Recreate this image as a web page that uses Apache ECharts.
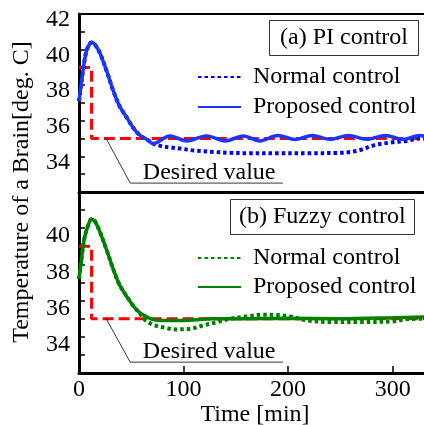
<!DOCTYPE html>
<html>
<head>
<meta charset="utf-8">
<script src="https://cdn.jsdelivr.net/npm/echarts@6/dist/echarts.min.js"></script>
<style>
html, body { margin: 0; padding: 0; background: #fff; }
#chart { width: 424px; height: 425px; }
</style>
</head>
<body>
<div id="chart"></div>
<script>
// (a) PI control
const piProTime = [0, 2, 4, 7, 10, 12, 15, 20, 27, 33, 39, 46, 52, 58, 65, 71, 87, 103, 122, 140, 157, 173, 190, 207, 223, 240, 258, 275, 293, 310, 326, 330]
const piProVal = [37.1, 38.0, 38.9, 39.9, 40.3, 40.4, 40.3, 39.8, 38.7, 37.65, 36.8, 36.15, 35.6, 35.2, 34.95, 34.72, 35.15, 34.87, 35.15, 34.87, 35.15, 34.87, 35.17, 34.95, 35.18, 34.96, 35.18, 34.96, 35.18, 34.96, 35.18, 35.15]
const piNorTime = [0, 2, 4, 7, 10, 12, 15, 20, 27, 33, 39, 46, 52, 58, 65, 71, 78, 88, 97, 110, 129, 145, 161, 190, 220, 250, 260, 269, 282, 298, 313, 326, 330]
const piNorVal = [37.1, 38.0, 38.9, 39.9, 40.3, 40.4, 40.3, 39.8, 38.7, 37.65, 36.8, 36.15, 35.6, 35.2, 34.95, 34.72, 34.59, 34.5, 34.44, 34.33, 34.25, 34.2, 34.18, 34.18, 34.18, 34.2, 34.25, 34.36, 34.62, 34.78, 34.87, 35.0, 35.0]

// (b) Fuzzy control
const fzProTime = [0, 2, 5, 9, 12, 15, 20, 27, 33, 39, 46, 52, 58, 65, 71, 80, 95, 110, 128, 160, 200, 250, 300, 330]
const fzProVal = [37.2, 38.1, 39.4, 40.2, 40.5, 40.4, 39.8, 38.7, 37.7, 36.85, 36.2, 35.7, 35.33, 35.1, 34.95, 34.9, 34.9, 34.93, 35.0, 35.0, 35.02, 35.0, 35.05, 35.1]
const fzNorTime = [0, 2, 5, 9, 12, 15, 20, 27, 33, 39, 46, 52, 58, 63, 71, 81, 93, 106, 119, 132, 145, 161, 176, 189, 202, 219, 240, 270, 300, 315, 330]
const fzNorVal = [37.2, 38.1, 39.4, 40.2, 40.5, 40.4, 39.8, 38.7, 37.7, 36.85, 36.2, 35.7, 35.3, 34.95, 34.66, 34.52, 34.41, 34.44, 34.63, 34.81, 35.0, 35.13, 35.22, 35.2, 35.12, 34.9, 34.82, 34.82, 34.85, 34.98, 35.0]

// desired value (step)
const desiredTime = [0, 12, 12, 330]
const desiredVal = [39, 39, 35, 35]

// "Desired value" leader lines
const leaderTime = [26, 49, 195]
const piLeaderVal = [35, 32.5, 32.5]
const fzLeaderVal = [35, 32.6, 32.6]

const piYTicks = [34, 36, 38, 40, 42]
const fzYTicks = [34, 36, 38, 40]
const xTicks = [0, 100, 200, 300]

const legendNames = {
  piNormal: 'Normal control', piProposed: 'Proposed control',
  fzNormal: 'Normal control', fzProposed: 'Proposed control'
}

const FONT = '"Liberation Serif", "Times New Roman", serif'
const zip = (xs, ys) => xs.map((x, i) => [x, ys[i]])

const leaderData = (vals) => {
  const d = zip(leaderTime, vals)
  d[d.length - 1] = {
    value: d[d.length - 1],
    label: { show: true, formatter: 'Desired value', position: [-140, -22] }
  }
  return d
}

const chart = echarts.init(document.getElementById('chart'))

const xBase = {
  type: 'value', min: 0, max: 330, interval: 100,
  splitLine: { show: false },
  axisLine: { lineStyle: { color: '#000', width: 3 } },
  axisTick: { show: false },
  axisLabel: { show: false }
}

const yBase = {
  type: 'value', min: 32, max: 42, interval: 2,
  splitLine: { show: false },
  axisLine: { show: true, lineStyle: { color: '#000', width: 3 } },
  axisTick: { inside: true, length: 6, lineStyle: { color: '#000', width: 1.5 } },
  minorTick: { show: true, splitNumber: 2, length: 6, lineStyle: { color: '#000', width: 1.5 } },
  axisLabel: {
    color: '#000', fontSize: 24, fontFamily: FONT, margin: 9,
    verticalAlign: 'top'
  }
}

const lineBase = {
  type: 'line', symbol: 'none', smooth: 0.35, silent: true
}

const option = {
  animation: false,
  grid: [
    { left: 79, top: 14, width: 345, height: 178, outerBoundsMode: 'none' },
    { left: 79, top: 192, width: 345, height: 181, outerBoundsMode: 'none' }
  ],
  title: [
    {
      text: '(a) PI control', left: 269, top: 20,
      borderColor: '#333', borderWidth: 1, padding: [6, 11],
      textStyle: { fontSize: 24, fontWeight: 'normal', fontFamily: FONT, color: '#000', lineHeight: 24 }
    },
    {
      text: '(b) Fuzzy control', left: 230, top: 199,
      borderColor: '#333', borderWidth: 1, padding: [6, 9],
      textStyle: { fontSize: 24, fontWeight: 'normal', fontFamily: FONT, color: '#000', lineHeight: 24 }
    }
  ],
  legend: [
    {
      data: ['piNormal', 'piProposed'], orient: 'vertical', left: 197, top: 65,
      itemWidth: 43, itemHeight: 14, itemGap: 6, padding: 0,
      itemStyle: { opacity: 0 },
      formatter: (n) => legendNames[n],
      textStyle: { fontSize: 24, fontFamily: FONT, color: '#000', lineHeight: 24, padding: [0, 0, 0, 7] }
    },
    {
      data: ['fzNormal', 'fzProposed'], orient: 'vertical', left: 197, top: 246,
      itemWidth: 43, itemHeight: 14, itemGap: 5, padding: 0,
      itemStyle: { opacity: 0 },
      formatter: (n) => legendNames[n],
      textStyle: { fontSize: 24, fontFamily: FONT, color: '#000', lineHeight: 24, padding: [0, 0, 0, 7] }
    }
  ],
  xAxis: [
    { ...xBase, gridIndex: 0, position: 'bottom' },
    { ...xBase, gridIndex: 0, position: 'top', axisLine: { lineStyle: { color: '#000', width: 2 } } },
    {
      ...xBase, gridIndex: 1, position: 'bottom',
      axisTick: { show: true, inside: true, length: 7, customValues: xTicks, lineStyle: { color: '#000', width: 1.5 } },
      axisLabel: { show: true, color: '#000', fontSize: 24, fontFamily: FONT, margin: 5, customValues: xTicks },
      name: 'Time [min]', nameLocation: 'middle', nameGap: 26,
      nameTextStyle: { color: '#000', fontSize: 24, fontFamily: FONT, padding: [0, 0, 0, 7] }
    }
  ],
  yAxis: [
    { ...yBase, gridIndex: 0, axisLabel: { ...yBase.axisLabel, customValues: piYTicks, lineHeight: 12 } },
    { ...yBase, gridIndex: 1, axisLabel: { ...yBase.axisLabel, customValues: fzYTicks, lineHeight: 16 } }
  ],
  graphic: [{
    type: 'text', x: 22, y: 192, rotation: Math.PI / 2,
    style: {
      text: 'Temperature of a Brain[deg. C]', fontSize: 24, fontFamily: FONT,
      fill: '#000', align: 'center', verticalAlign: 'middle'
    }
  }],
  series: [
    // top panel
    {
      type: 'line', xAxisIndex: 0, yAxisIndex: 0, data: zip(desiredTime, desiredVal),
      symbol: 'none', silent: true, lineStyle: { color: '#ff0000', width: 3, type: [11, 5] }
    },
    {
      type: 'line', xAxisIndex: 0, yAxisIndex: 0, data: leaderData(piLeaderVal),
      symbol: 'circle', symbolSize: 0, showSymbol: true, silent: true,
      lineStyle: { color: '#000', width: 0.8 },
      label: { color: '#000', fontSize: 24, fontFamily: FONT }
    },
    {
      ...lineBase, name: 'piNormal', xAxisIndex: 0, yAxisIndex: 0, data: zip(piNorTime, piNorVal),
      color: '#0000ff', lineStyle: { color: '#0000ff', width: 4, type: [3.5, 3] }
    },
    {
      ...lineBase, name: 'piProposed', xAxisIndex: 0, yAxisIndex: 0, data: zip(piProTime, piProVal),
      color: '#1a35ff', lineStyle: { color: '#1a35ff', width: 3.5 }
    },
    // bottom panel
    {
      type: 'line', xAxisIndex: 2, yAxisIndex: 1, data: zip(desiredTime, desiredVal),
      symbol: 'none', silent: true, lineStyle: { color: '#ff0000', width: 3, type: [11, 5] }
    },
    {
      type: 'line', xAxisIndex: 2, yAxisIndex: 1, data: leaderData(fzLeaderVal),
      symbol: 'circle', symbolSize: 0, showSymbol: true, silent: true,
      lineStyle: { color: '#000', width: 0.8 },
      label: { color: '#000', fontSize: 24, fontFamily: FONT }
    },
    {
      ...lineBase, name: 'fzNormal', xAxisIndex: 2, yAxisIndex: 1, data: zip(fzNorTime, fzNorVal),
      color: '#008000', lineStyle: { color: '#008000', width: 4, type: [3.5, 3] }
    },
    {
      ...lineBase, name: 'fzProposed', xAxisIndex: 2, yAxisIndex: 1, data: zip(fzProTime, fzProVal),
      color: '#008000', lineStyle: { color: '#008000', width: 3.5 }
    }
  ]
}

chart.setOption(option)
</script>
</body>
</html>
